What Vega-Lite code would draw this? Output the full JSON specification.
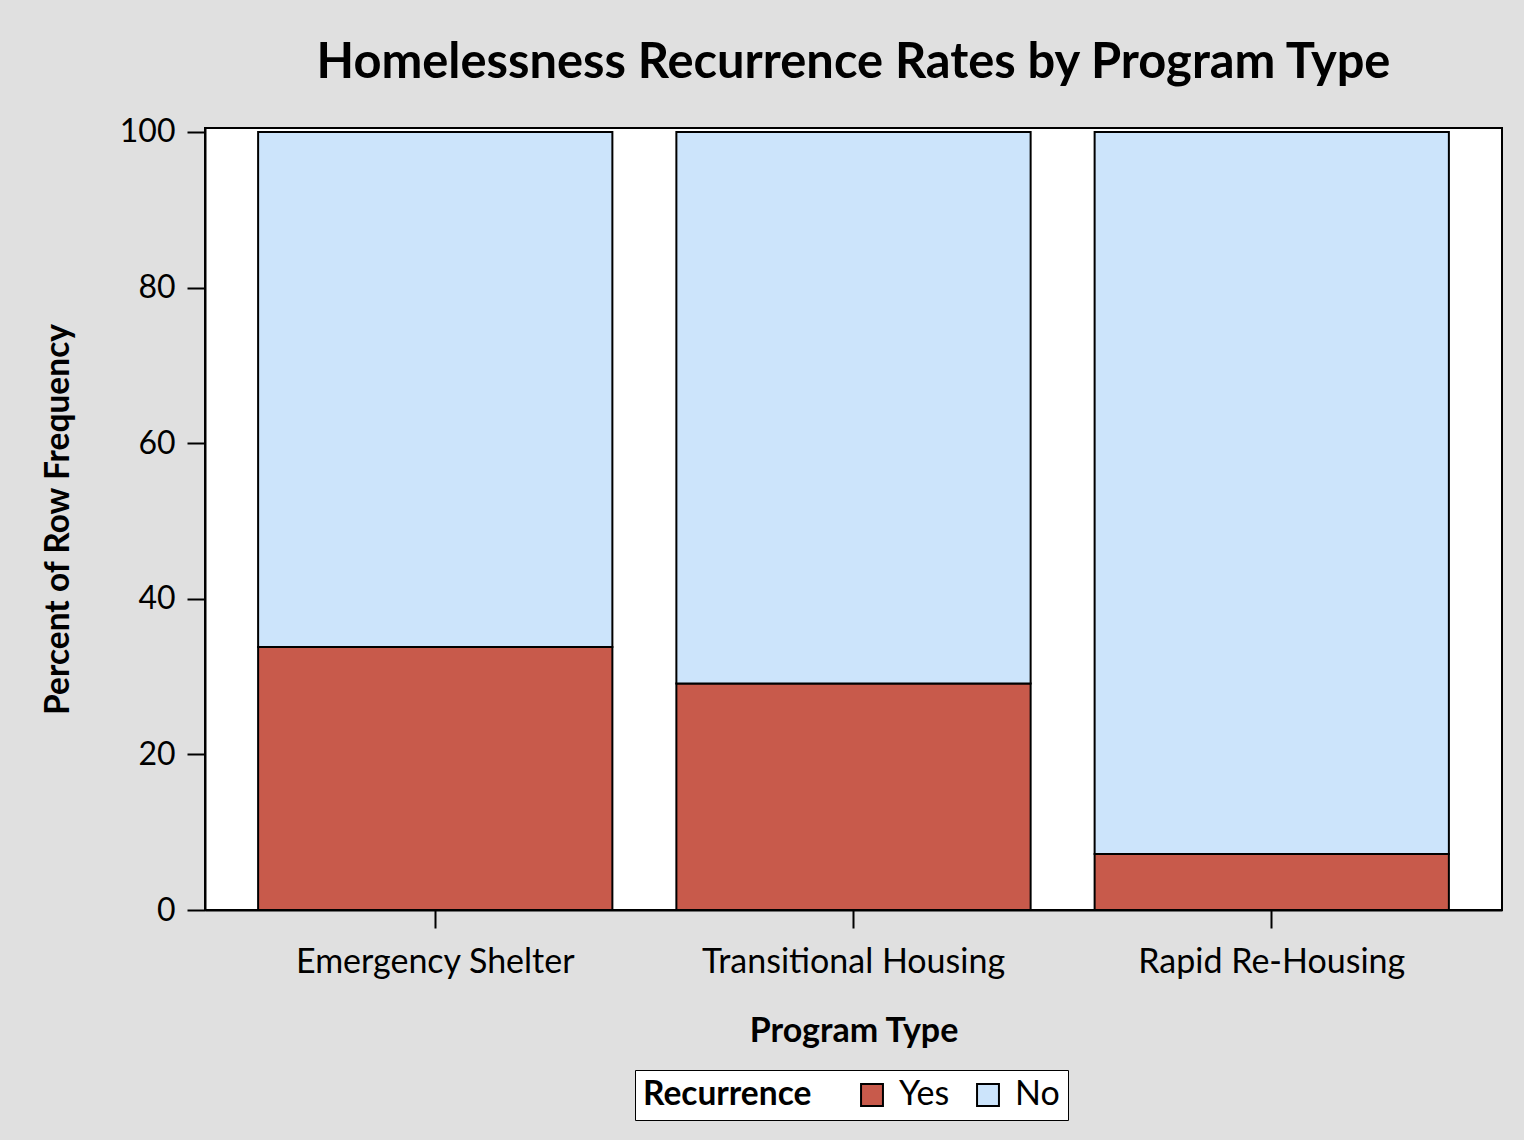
{
  "$schema": "https://vega.github.io/schema/vega-lite/v6.json",
  "width": 1297,
  "height": 782,
  "autosize": {"type": "none"},
  "padding": {"left": 205, "top": 128, "right": 22, "bottom": 230},
  "background": "#e0e0e0",
  "title": {
    "text": "Homelessness Recurrence Rates by Program Type",
    "font": "Lato",
    "fontSize": 48.8,
    "fontWeight": "bold",
    "color": "#000000",
    "anchor": "middle",
    "offset": 28
  },
  "data": {
    "values": [
      {"program": "Emergency Shelter", "recurrence": "Yes", "percent": 33.8},
      {"program": "Emergency Shelter", "recurrence": "No", "percent": 66.2},
      {"program": "Transitional Housing", "recurrence": "Yes", "percent": 29.1},
      {"program": "Transitional Housing", "recurrence": "No", "percent": 70.9},
      {"program": "Rapid Re-Housing", "recurrence": "Yes", "percent": 7.2},
      {"program": "Rapid Re-Housing", "recurrence": "No", "percent": 92.8}
    ]
  },
  "mark": {"type": "bar", "stroke": "#000000", "strokeWidth": 2, "opacity": 1},
  "encoding": {
    "x": {
      "field": "program",
      "type": "nominal",
      "sort": ["Emergency Shelter", "Transitional Housing", "Rapid Re-Housing"],
      "scale": {"paddingInner": 0.153, "paddingOuter": 0.127},
      "axis": {
        "title": "Program Type",
        "labelAngle": 0,
        "labelLimit": 0,
        "labelFont": "Lato",
        "labelFontSize": 34,
        "labelColor": "#000000",
        "labelPadding": 17,
        "tickSize": 18,
        "tickColor": "#000000",
        "tickWidth": 2,
        "domainColor": "#000000",
        "domainWidth": 2,
        "titleFont": "Lato",
        "titleFontSize": 34,
        "titleFontWeight": "bold",
        "titleColor": "#000000",
        "titlePadding": 35
      }
    },
    "y": {
      "field": "percent",
      "type": "quantitative",
      "stack": "zero",
      "scale": {"domain": [0, 100.5], "nice": false},
      "axis": {
        "title": "Percent of Row Frequency",
        "values": [0, 20, 40, 60, 80, 100],
        "grid": false,
        "labelFont": "Lato",
        "labelFontSize": 32,
        "labelColor": "#000000",
        "labelPadding": 12,
        "tickSize": 18,
        "tickColor": "#000000",
        "tickWidth": 2,
        "domainColor": "#000000",
        "domainWidth": 2,
        "titleFont": "Lato",
        "titleFontSize": 33.5,
        "titleFontWeight": "bold",
        "titleColor": "#000000",
        "titlePadding": 44
      }
    },
    "color": {
      "field": "recurrence",
      "type": "nominal",
      "sort": ["Yes", "No"],
      "scale": {"domain": ["Yes", "No"], "range": ["#c85a4b", "#cce4fb"]},
      "legend": {
        "title": "Recurrence",
        "orient": "none",
        "legendX": 430,
        "legendY": 942,
        "direction": "horizontal",
        "titleOrient": "left",
        "titleFont": "Lato",
        "titleFontSize": 33.5,
        "titleFontWeight": "bold",
        "titleColor": "#000000",
        "titlePadding": 43,
        "labelFont": "Lato",
        "labelFontSize": 34,
        "labelColor": "#000000",
        "labelOffset": 10,
        "symbolType": "square",
        "symbolSize": 480,
        "symbolStrokeColor": "#000000",
        "symbolStrokeWidth": 2,
        "symbolOpacity": 1,
        "columnPadding": 21,
        "strokeColor": "#000000",
        "fillColor": "#ffffff",
        "padding": 8
      }
    },
    "order": {"field": "recurrence", "sort": "descending"}
  },
  "config": {
    "view": {"stroke": "#000000", "strokeWidth": 2, "fill": "#ffffff"}
  }
}
